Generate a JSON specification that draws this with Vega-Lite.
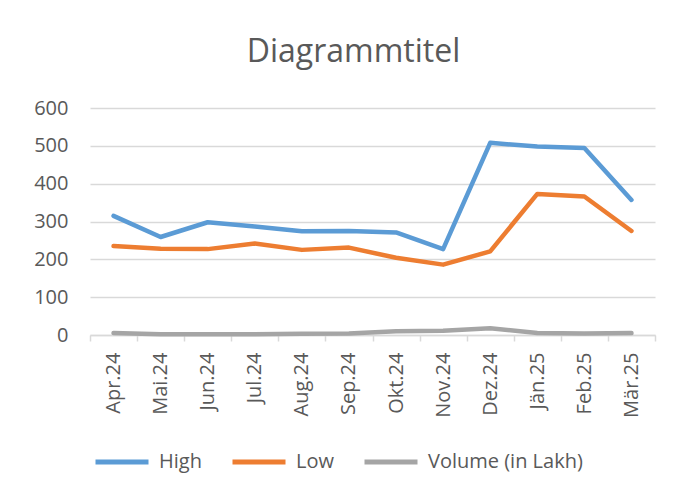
{
  "$schema": "https://vega.github.io/schema/vega-lite/v6.json",
  "autosize": "none",
  "width": 565,
  "height": 227,
  "padding": {"left": 90, "top": 108, "right": 26, "bottom": 158},
  "background": "white",
  "config": {
    "font": "Open Sans",
    "view": {"stroke": null}
  },
  "title": {
    "text": "Diagrammtitel",
    "fontSize": 32,
    "font": "Open Sans",
    "fontWeight": "normal",
    "color": "#595959",
    "anchor": "middle",
    "baseline": "alphabetic",
    "offset": 4,
    "dx": -19
  },
  "data": {
    "values": [
      {"month": "Apr.24", "series": "High", "value": 315},
      {"month": "Mai.24", "series": "High", "value": 259},
      {"month": "Jun.24", "series": "High", "value": 298},
      {"month": "Jul.24", "series": "High", "value": 287},
      {"month": "Aug.24", "series": "High", "value": 274},
      {"month": "Sep.24", "series": "High", "value": 275},
      {"month": "Okt.24", "series": "High", "value": 271},
      {"month": "Nov.24", "series": "High", "value": 227},
      {"month": "Dez.24", "series": "High", "value": 508},
      {"month": "Jän.25", "series": "High", "value": 498},
      {"month": "Feb.25", "series": "High", "value": 494},
      {"month": "Mär.25", "series": "High", "value": 357},
      {"month": "Apr.24", "series": "Low", "value": 235},
      {"month": "Mai.24", "series": "Low", "value": 228},
      {"month": "Jun.24", "series": "Low", "value": 227},
      {"month": "Jul.24", "series": "Low", "value": 242},
      {"month": "Aug.24", "series": "Low", "value": 225},
      {"month": "Sep.24", "series": "Low", "value": 231},
      {"month": "Okt.24", "series": "Low", "value": 204},
      {"month": "Nov.24", "series": "Low", "value": 186},
      {"month": "Dez.24", "series": "Low", "value": 221},
      {"month": "Jän.25", "series": "Low", "value": 373},
      {"month": "Feb.25", "series": "Low", "value": 366},
      {"month": "Mär.25", "series": "Low", "value": 275},
      {"month": "Apr.24", "series": "Volume  (in Lakh)", "value": 5},
      {"month": "Mai.24", "series": "Volume  (in Lakh)", "value": 2},
      {"month": "Jun.24", "series": "Volume  (in Lakh)", "value": 2},
      {"month": "Jul.24", "series": "Volume  (in Lakh)", "value": 2},
      {"month": "Aug.24", "series": "Volume  (in Lakh)", "value": 3},
      {"month": "Sep.24", "series": "Volume  (in Lakh)", "value": 4},
      {"month": "Okt.24", "series": "Volume  (in Lakh)", "value": 10},
      {"month": "Nov.24", "series": "Volume  (in Lakh)", "value": 11},
      {"month": "Dez.24", "series": "Volume  (in Lakh)", "value": 18},
      {"month": "Jän.25", "series": "Volume  (in Lakh)", "value": 5},
      {"month": "Feb.25", "series": "Volume  (in Lakh)", "value": 4},
      {"month": "Mär.25", "series": "Volume  (in Lakh)", "value": 5}
    ]
  },
  "mark": {"type": "line", "strokeWidth": 4.5, "strokeCap": "round", "strokeJoin": "round"},
  "encoding": {
    "x": {
      "field": "month",
      "type": "ordinal",
      "sort": ["Apr.24","Mai.24","Jun.24","Jul.24","Aug.24","Sep.24","Okt.24","Nov.24","Dez.24","Jän.25","Feb.25","Mär.25"],
      "scale": {"type": "band", "paddingInner": 0, "paddingOuter": 0},
      "axis": {
        "title": null,
        "labelAngle": -90,
        "labelAlign": "right",
        "labelBaseline": "middle",
        "labelFontSize": 20,
        "labelColor": "#595959",
        "labelPadding": 11,
        "domainColor": "#D9D9D9",
        "domainWidth": 1.5,
        "tickColor": "#D9D9D9",
        "tickWidth": 1.5,
        "tickSize": 6,
        "tickBand": "extent",
        "grid": false
      }
    },
    "y": {
      "field": "value",
      "type": "quantitative",
      "scale": {"domain": [0, 600], "nice": false},
      "axis": {
        "title": null,
        "values": [0, 100, 200, 300, 400, 500, 600],
        "labelFontSize": 20,
        "labelColor": "#595959",
        "labelPadding": 22,
        "domain": false,
        "ticks": false,
        "grid": true,
        "gridColor": "#D9D9D9",
        "gridWidth": 1.5
      }
    },
    "color": {
      "field": "series",
      "type": "nominal",
      "scale": {
        "domain": ["High", "Low", "Volume  (in Lakh)"],
        "range": ["#5B9BD5", "#ED7D31", "#A5A5A5"]
      },
      "legend": {
        "title": null,
        "orient": "none",
        "direction": "horizontal",
        "gridAlign": "none",
        "legendX": 3,
        "legendY": 325,
        "symbolType": "stroke",
        "symbolSize": 2809,
        "symbolStrokeWidth": 5,
        "labelFontSize": 20,
        "labelColor": "#595959",
        "labelOffset": 8,
        "labelLimit": 300,
        "columnPadding": 20
      }
    }
  }
}
